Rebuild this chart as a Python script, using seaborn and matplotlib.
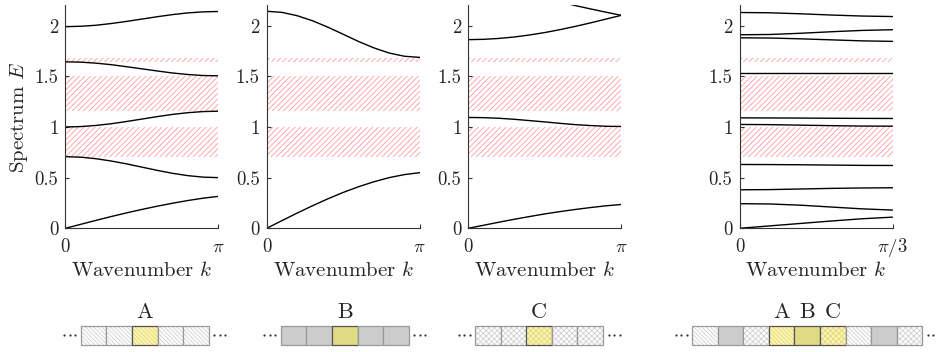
import numpy as np
import pandas as pd
import matplotlib
matplotlib.use("Agg")
import matplotlib.pyplot as plt
from matplotlib.patches import Rectangle
import seaborn as sns

# ---- data -----------------------------------------------------------------
# sample points along k (fraction of the zone edge)
k_frac = [0.0, 0.1, 0.2, 0.3, 0.4, 0.5, 0.6, 0.7, 0.8, 0.9, 1.0]
k_frac_tail = [0.6, 0.7, 0.8, 0.9, 1.0]
k_frac_sc = [0.0, 0.2, 0.4, 0.6, 0.8, 1.0]

# panel A (lattice A), bands from low to high
a_band1 = [0.0, 0.039, 0.078, 0.116, 0.152, 0.186, 0.218, 0.247, 0.274, 0.297, 0.315]
a_band2 = [0.707, 0.702, 0.687, 0.664, 0.636, 0.604, 0.572, 0.543, 0.520, 0.505, 0.500]
a_band3 = [1.0, 1.004, 1.015, 1.032, 1.054, 1.078, 1.102, 1.124, 1.141, 1.152, 1.156]
a_band4 = [1.643, 1.640, 1.630, 1.615, 1.595, 1.574, 1.553, 1.533, 1.518, 1.508, 1.505]
a_band5 = [1.99, 1.994, 2.004, 2.021, 2.042, 2.065, 2.088, 2.109, 2.126, 2.136, 2.14]

# panel B
b_band1 = [0.0, 0.076, 0.151, 0.223, 0.291, 0.354, 0.41, 0.459, 0.5, 0.53, 0.549]
b_band2 = [2.142, 2.131, 2.098, 2.048, 1.985, 1.915, 1.844, 1.781, 1.730, 1.698, 1.687]

# panel C
c_band1 = [0.0, 0.03, 0.06, 0.089, 0.116, 0.142, 0.165, 0.186, 0.205, 0.222, 0.235]
c_band2 = [1.094, 1.092, 1.086, 1.076, 1.063, 1.050, 1.036, 1.023, 1.014, 1.007, 1.005]
c_band3 = [1.862, 1.865, 1.874, 1.888, 1.908, 1.932, 1.961, 1.993, 2.028, 2.065, 2.102]
c_band4 = [2.235, 2.198, 2.165, 2.133, 2.102]  # only the visible tail

# supercell panel (k up to pi/3)
sc_bands = [
    [0.0, 0.024, 0.048, 0.072, 0.094, 0.11],
    [0.243, 0.24, 0.228, 0.21, 0.192, 0.18],
    [0.38, 0.382, 0.388, 0.394, 0.398, 0.40],
    [0.63, 0.629, 0.627, 0.624, 0.621, 0.62],
    [1.025, 1.023, 1.018, 1.013, 1.009, 1.008],
    [1.09, 1.089, 1.088, 1.086, 1.085, 1.084],
    [1.53, 1.53, 1.53, 1.53, 1.53, 1.53],
    [1.88, 1.878, 1.87, 1.86, 1.85, 1.845],
    [1.91, 1.913, 1.925, 1.94, 1.953, 1.96],
    [2.13, 2.127, 2.117, 2.105, 2.095, 2.09],
]

# band gaps (hatched)
gaps = [(0.70, 1.00), (1.16, 1.50), (1.645, 1.683)]

yticks = [0, 0.5, 1, 1.5, 2]
yticklabels = ["0", "0.5", "1", "1.5", "2"]

# ---- long table for seaborn ------------------------------------------------
rows = []
def add(panel, kmax, fracs, vals, name):
    for f, e in zip(fracs, vals):
        rows.append(dict(panel=panel, band=name, k=f * kmax, E=e))

for i, v in enumerate([a_band1, a_band2, a_band3, a_band4, a_band5]):
    add("A", np.pi, k_frac, v, f"a{i}")
for i, v in enumerate([b_band1, b_band2]):
    add("B", np.pi, k_frac, v, f"b{i}")
for i, v in enumerate([c_band1, c_band2, c_band3]):
    add("C", np.pi, k_frac, v, f"c{i}")
add("C", np.pi, k_frac_tail, c_band4, "c3")
for i, v in enumerate(sc_bands):
    add("SC", np.pi / 3, k_frac_sc, v, f"s{i}")
df = pd.DataFrame(rows)

# ---- style -----------------------------------------------------------------
sns.set_style("ticks")
plt.rcParams["font.family"] = ["cmr10", "DejaVu Serif"]
plt.rcParams["mathtext.fontset"] = "cm"
plt.rcParams["axes.formatter.use_mathtext"] = True
plt.rcParams["hatch.linewidth"] = 0.6
plt.rcParams["xtick.direction"] = "in"
plt.rcParams["ytick.direction"] = "in"
FS = 13.5
LFS = 15

fig = plt.figure(figsize=(9.38, 3.52), dpi=100)
W, H = 938.0, 352.0

panel_specs = [
    ("A", 65.3, np.pi, r"$\pi$"),
    ("B", 266.7, np.pi, r"$\pi$"),
    ("C", 468.3, np.pi, r"$\pi$"),
    ("SC", 739.5, np.pi / 3, r"$\pi/3$"),
]
ax_w, ax_bottom, ax_h = 153.0, 228.3, 222.9

for j, (name, left, kmax, klab) in enumerate(panel_specs):
    ax = fig.add_axes([left / W, (H - ax_bottom) / H, ax_w / W, ax_h / H])
    for lo, hi in gaps:
        ax.axhspan(lo, hi, facecolor="none", edgecolor="#ff9c9c",
                   hatch="//////", linewidth=0, zorder=0)
    sub = df[df.panel == name]
    sns.lineplot(data=sub, x="k", y="E", units="band", estimator=None,
                 sort=False, color="black", linewidth=1.0, ax=ax, legend=False)
    ax.set_xlim(0, kmax)
    ax.set_ylim(0, 2.2)
    ax.set_xticks([0, kmax])
    ax.set_xticklabels(["0", klab], fontsize=FS)
    for t in ax.get_xticklabels():
        t.set_verticalalignment("baseline")
    ax.set_yticks(yticks)
    ax.set_yticklabels(yticklabels, fontsize=FS)
    ax.tick_params(length=3, width=0.8, color="#333333")
    ax.tick_params(axis="x", pad=17)
    ax.tick_params(axis="y", pad=5)
    ax.set_xlabel(r"Wavenumber $k$", fontsize=LFS)
    ax.xaxis.set_label_coords(0.5, -0.145)
    ax.set_ylabel(r"Spectrum $E$" if j == 0 else "", fontsize=LFS, labelpad=3)
    sns.despine(ax=ax)
    for s in ("left", "bottom"):
        ax.spines[s].set_color("#333333")
        ax.spines[s].set_linewidth(0.8)

# ---- unit-cell chains at the bottom ----------------------------------------
ov = fig.add_axes([0, 0, 1, 1], zorder=5)
ov.set_xlim(0, W)
ov.set_ylim(H, 0)
ov.axis("off")

sq_w, sq_h, sq_top = 25.6, 19.0, 326.0
cell_style = {
    "A": dict(face="white", hatch="\\\\\\\\\\\\\\\\", hcol="#cfcfcf"),
    "B": dict(face="#cccccc", hatch=None, hcol="#cccccc"),
    "C": dict(face="white", hatch="xxxxxx", hcol="#cfcfcf"),
    "A*": dict(face="#fff6a6", hatch="\\\\\\\\\\\\\\\\", hcol="#dcd494"),
    "B*": dict(face="#dedb84", hatch=None, hcol="#dedb84"),
    "C*": dict(face="#fff6a6", hatch="xxxxxx", hcol="#dcd494"),
}
chains = [
    (80.7, ["A", "A", "A*", "A", "A"], {2: "A"}),
    (280.7, ["B", "B", "B*", "B", "B"], {2: "B"}),
    (475.0, ["C", "C", "C*", "C", "C"], {2: "C"}),
    (692.0, ["A", "B", "C", "A*", "B*", "C*", "A", "B", "C"],
     {3: "A", 4: "B", 5: "C"}),
]
for x0, cells, letters in chains:
    for i, c in enumerate(cells):
        st = cell_style[c]
        x = x0 + i * sq_w
        ov.add_patch(Rectangle((x, sq_top), sq_w, sq_h, facecolor=st["face"],
                               edgecolor=st["hcol"], hatch=st["hatch"],
                               linewidth=0))
        edge = "#555555" if c.endswith("*") else "#999999"
        ov.add_patch(Rectangle((x, sq_top), sq_w, sq_h, facecolor="none",
                               edgecolor=edge, linewidth=0.9))
    for i, lab in letters.items():
        ov.text(x0 + (i + 0.5) * sq_w, sq_top - 4, lab, ha="center",
                va="bottom", fontsize=16)
    x1 = x0 + len(cells) * sq_w
    # dotted continuation on both sides
    for side in (-1, 1):
        base = x0 - 3 if side < 0 else x1 + 3
        for d in range(3):
            ov.plot(base + side * (2.5 + 5.5 * d), sq_top + sq_h / 2 - 1,
                    marker="o", ms=1.6, color="#333333", mew=0)

fig.savefig("out.png", dpi=100)
